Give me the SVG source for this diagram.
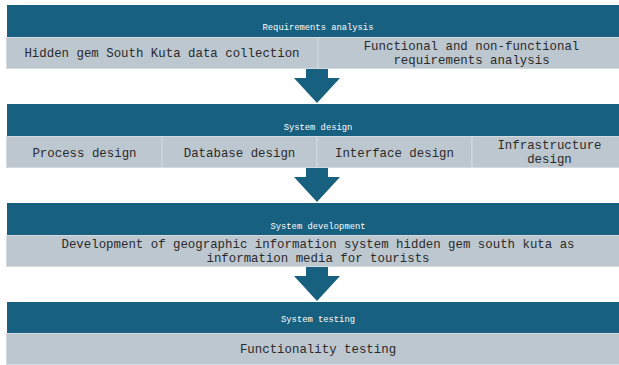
<svg xmlns="http://www.w3.org/2000/svg" width="619" height="365" viewBox="0 0 619 365">
  <style>
    .hdr { fill: #17607f; }
    .cell { fill: #bcc7d0; stroke: #d3dbe1; stroke-width: 1; }
    .arrow { fill: #17607f; }
    .title { font-family: "Liberation Mono", "Courier New", monospace; font-size: 8.8px; fill: #ffffff; text-anchor: middle; }
    .body { font-family: "Liberation Mono", "Courier New", monospace; font-size: 12.4px; fill: #2a2a2a; text-anchor: middle; }
  </style>
  <rect width="619" height="365" fill="#ffffff"/>

  <g id="stage-requirements">
    <rect class="hdr" x="7" y="5" width="622" height="32"/>
    <text class="title" x="318" y="30">Requirements analysis</text>
    <rect class="cell" x="6.5" y="37.5" width="311.5" height="31"/>
    <rect class="cell" x="318" y="37.5" width="310" height="31"/>
    <text class="body" x="162" y="57">Hidden gem South Kuta data collection</text>
    <text class="body" x="471.5" y="50">Functional and non-functional</text>
    <text class="body" x="471.5" y="63.5">requirements analysis</text>
  </g>

  <g id="stage-design">
    <rect class="hdr" x="7" y="104" width="622" height="32"/>
    <text class="title" x="318" y="130">System design</text>
    <rect class="cell" x="6.5" y="136.5" width="155.5" height="31"/>
    <rect class="cell" x="162" y="136.5" width="155" height="31"/>
    <rect class="cell" x="317" y="136.5" width="155" height="31"/>
    <rect class="cell" x="472" y="136.5" width="155" height="31"/>
    <text class="body" x="84.5" y="157">Process design</text>
    <text class="body" x="239.5" y="157">Database design</text>
    <text class="body" x="394.5" y="157">Interface design</text>
    <text class="body" x="549.5" y="149">Infrastructure</text>
    <text class="body" x="549.5" y="162.5">design</text>
  </g>

  <g id="stage-development">
    <rect class="hdr" x="7" y="203" width="622" height="32"/>
    <text class="title" x="318" y="229">System development</text>
    <rect class="cell" x="6.5" y="235.5" width="622" height="31"/>
    <text class="body" x="318" y="248">Development of geographic information system hidden gem south kuta as</text>
    <text class="body" x="318" y="261.5">information media for tourists</text>
  </g>

  <g id="stage-testing">
    <rect class="hdr" x="7" y="302" width="622" height="32"/>
    <text class="title" x="318" y="322">System testing</text>
    <rect class="cell" x="6.5" y="333.5" width="622" height="31"/>
    <text class="body" x="318" y="353">Functionality testing</text>
  </g>

  <g id="connectors">
    <polygon class="arrow" points="306,69 328,69 328,78 340,78 317,103 294,78 306,78"/>
    <polygon class="arrow" points="306,168 328,168 328,177 340,177 317,202 294,177 306,177"/>
    <polygon class="arrow" points="306,267 328,267 328,276 340,276 317,301 294,276 306,276"/>
  </g>
</svg>
